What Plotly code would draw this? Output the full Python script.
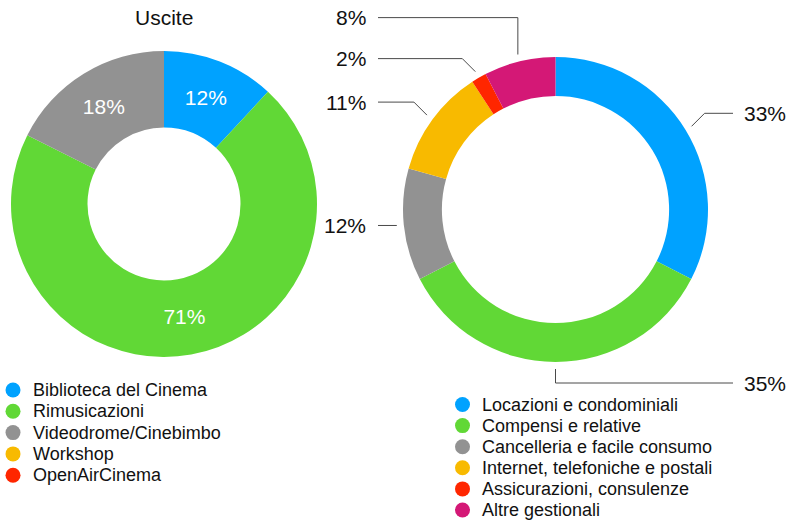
import math
import plotly.graph_objects as go

# ---------------- data ----------------
left_title = "Uscite"
left_labels = ["Biblioteca del Cinema", "Rimusicazioni", "Videodrome/Cinebimbo", "Workshop", "OpenAirCinema"]
left_values = [11.9, 70.6, 17.6, 0, 0]
left_colors = ["#00A2FF", "#61D836", "#929292", "#F8BA00", "#FF2600"]

right_labels = ["Locazioni e condominiali", "Compensi e relative", "Cancelleria e facile consumo",
                "Internet, telefoniche e postali", "Assicurazioni, consulenze", "Altre gestionali"]
right_values = [32.6, 35.0, 11.9, 11.5, 1.6, 7.6]
right_colors = ["#00A2FF", "#61D836", "#929292", "#F8BA00", "#FF2600", "#D41876"]

# ---------------- layout constants (pixels) ----------------
W, H = 803, 520
FONT = "Liberation Sans, Arial, Helvetica, sans-serif"
L_CX, L_CY, L_R, L_HOLE = 164, 204, 153, 0.5
R_CX, R_CY, R_R, R_HOLE = 555.5, 209.5, 152.5, 0.745
R_ANCHOR = R_R + 7
DIAG = 13          # 45-degree leader segment length (each axis)
VERT = 14          # vertical leader segment for bottom/top slices
END_RIGHT, END_LEFT = 733, 378
LABEL_GAP = 41
LINE_COLOR = "#4a4a4a"


def domain(cx, cy, r):
    return dict(x=[(cx - r) / W, (cx + r) / W], y=[1 - (cy + r) / H, 1 - (cy - r) / H])


def sgn(v):
    return 1 if v >= 0 else -1


fig = go.Figure()

# left donut (only slices with a value are drawn)
lp = [(l, v, c) for l, v, c in zip(left_labels, left_values, left_colors) if v > 0]
fig.add_trace(go.Pie(
    labels=[p[0] for p in lp], values=[p[1] for p in lp],
    marker=dict(colors=[p[2] for p in lp], line=dict(width=0)),
    hole=L_HOLE, sort=False, direction="clockwise", rotation=0,
    domain=domain(L_CX, L_CY, L_R),
    textinfo="percent", texttemplate="%{percent:.0%}", textposition="inside",
    insidetextorientation="horizontal",
    textfont=dict(color="white", size=21, family=FONT),
    showlegend=False, hoverinfo="label+percent",
))

# right donut
fig.add_trace(go.Pie(
    labels=right_labels, values=right_values,
    marker=dict(colors=right_colors, line=dict(width=0)),
    hole=R_HOLE, sort=False, direction="clockwise", rotation=0,
    domain=domain(R_CX, R_CY, R_R),
    textinfo="none", showlegend=False, hoverinfo="label+percent",
))

# ---------------- outside labels with leader lines (right donut) ----------------
total = sum(right_values)
items = []
cum = 0.0
for lab, v in zip(right_labels, right_values):
    frac = (cum + v / 2) / total
    cum += v
    th = 2 * math.pi * frac
    s, c = math.sin(th), math.cos(th)
    ax, ay = R_CX + R_ANCHOR * s, R_CY - R_ANCHOR * c
    if abs(c) < 0.2:            # nearly horizontal: straight line
        ex, ey = ax, ay
    elif abs(s) < 0.2:          # nearly vertical: short vertical segment
        ex, ey = ax, ay - VERT * sgn(c)
    else:                        # 45-degree segment outward
        ex, ey = ax + DIAG * sgn(s), ay - DIAG * sgn(c)
    items.append(dict(pct=f"{round(v / total * 100)}%", ax=ax, ay=ay, ex=ex, ey=ey,
                      side="right" if s > -0.05 else "left"))

# resolve vertical collisions
left_items = sorted([it for it in items if it["side"] == "left"], key=lambda d: -d["ey"])
prev = None
for it in left_items:
    it["ly"] = it["ey"] if prev is None else min(it["ey"], prev - LABEL_GAP)
    prev = it["ly"]
right_items = sorted([it for it in items if it["side"] == "right"], key=lambda d: d["ey"])
prev = None
for it in right_items:
    it["ly"] = it["ey"] if prev is None else max(it["ey"], prev + LABEL_GAP)
    prev = it["ly"]

annotations = []
for it in items:
    end_x = END_RIGHT if it["side"] == "right" else END_LEFT
    if abs(it["ly"] - it["ey"]) > 0.5:
        xs = [it["ax"], it["ax"], end_x]
        ys = [it["ay"], it["ly"], it["ly"]]
    else:
        xs = [it["ax"], it["ex"], end_x]
        ys = [it["ay"], it["ey"], it["ey"]]
    fig.add_trace(go.Scatter(x=xs, y=ys, mode="lines", line=dict(color=LINE_COLOR, width=1),
                             hoverinfo="skip", showlegend=False))
    if it["side"] == "right":
        annotations.append(dict(x=end_x + 9, y=it["ly"], text=it["pct"], xanchor="left"))
    else:
        annotations.append(dict(x=end_x - 10, y=it["ly"], text=it["pct"], xanchor="right"))
for a in annotations:
    a.update(xref="x", yref="y", yanchor="middle", showarrow=False,
             font=dict(size=21, color="#111", family=FONT))

# title of the left donut
annotations.append(dict(x=L_CX, y=17.5, xref="x", yref="y", text=left_title, showarrow=False,
                        xanchor="center", yanchor="middle", font=dict(size=21, color="#111", family=FONT)))

# ---------------- legends ----------------
def add_legend(labels, colors, mx, tx, y0, dy):
    ys = [y0 + i * dy for i in range(len(labels))]
    fig.add_trace(go.Scatter(x=[mx] * len(labels), y=ys, mode="markers",
                             marker=dict(size=15, color=colors, symbol="circle", line=dict(width=0)),
                             hoverinfo="skip", showlegend=False))
    for lab, y in zip(labels, ys):
        annotations.append(dict(x=tx, y=y, xref="x", yref="y", text=lab, showarrow=False,
                                xanchor="left", yanchor="middle",
                                font=dict(size=18, color="#111", family=FONT)))


add_legend(left_labels, left_colors, 13, 31, 390, 21.3)
add_legend(right_labels, right_colors, 462.5, 480, 404.5, 21.1)

fig.update_layout(
    width=W, height=H,
    margin=dict(l=0, r=0, t=0, b=0),
    paper_bgcolor="white", plot_bgcolor="white",
    showlegend=False,
    xaxis=dict(range=[0, W], visible=False, fixedrange=True, domain=[0, 1]),
    yaxis=dict(range=[H, 0], visible=False, fixedrange=True, domain=[0, 1]),
    annotations=annotations,
    font=dict(family=FONT),
)

fig.write_html("out.html", config={"displayModeBar": False},
               post_script="document.body.style.margin='0';document.body.style.overflow='hidden';")
